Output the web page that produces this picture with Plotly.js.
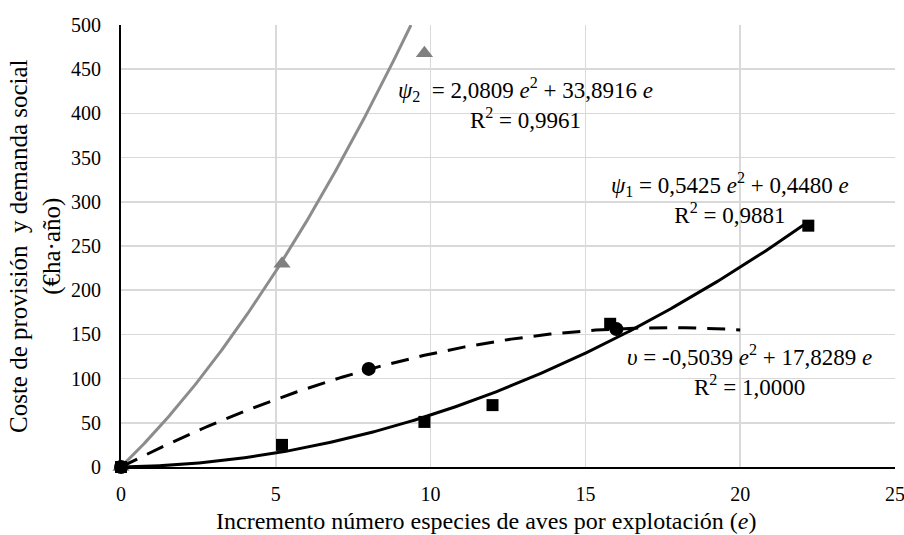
<!DOCTYPE html>
<html><head><meta charset="utf-8">
<script src="https://cdn.plot.ly/plotly-3.0.1.min.js"></script>
<style>body{margin:0;background:#fff}#c{width:904px;height:535px}</style>
</head><body><div id="c"></div>
<script>
// Observed data
const squaresX = [0, 5.2, 9.8, 12, 15.8, 22.2];
const squaresY = [0, 25, 51, 70, 162, 273];
const trianglesX = [0, 5.2, 9.8];
const trianglesY = [0, 230, 468];
const circlesX = [0, 8, 16];
const circlesY = [0, 111, 156];
// Trendline coefficients shown on the chart [a, b] for a*e^2 + b*e
const coefPsi1 = [0.5425, 0.4480];
const coefPsi2 = [2.0809, 33.8916];
const coefV = [-0.5039, 17.8289];
// Trendline x-extents
const rangePsi1 = [0, 22.2];
const rangePsi2 = [0, 9.8];
const rangeV = [0, 20];
const xTicks = [0, 5, 10, 15, 20, 25];
const yTicks = [0, 50, 100, 150, 200, 250, 300, 350, 400, 450, 500];

function trend(coef, rng, yMax) {
  const xs = [], ys = [];
  const n = 300;
  for (let i = 0; i <= n; i++) {
    const x = rng[0] + (rng[1] - rng[0]) * i / n;
    const y = coef[0] * x * x + coef[1] * x;
    if (yMax !== undefined && y > yMax) {
      const a = coef[0], b = coef[1], c = -yMax;
      const xc = (-b + Math.sqrt(b * b - 4 * a * c)) / (2 * a);
      xs.push(xc); ys.push(yMax);
      break;
    }
    xs.push(x); ys.push(y);
  }
  return {x: xs, y: ys};
}

const t2 = trend(coefPsi2, rangePsi2, 500);
const t1 = trend(coefPsi1, rangePsi1);
const tv = trend(coefV, rangeV);

const FONT = 'Liberation Serif, Times New Roman, serif';
const TICK = 20, EQ = 23, XTITLE = 24, YTITLE = 25;
const data = [
  {x: t2.x, y: t2.y, mode: 'lines', line: {color: '#8c8c8c', width: 3}, showlegend: false},
  {x: t1.x, y: t1.y, mode: 'lines', line: {color: '#000', width: 3}, showlegend: false},
  {x: tv.x, y: tv.y, mode: 'lines', line: {color: '#000', width: 3, dash: '18px,11px'}, showlegend: false},
  {x: trianglesX, y: trianglesY, mode: 'markers', marker: {symbol: 'triangle-up', color: '#808080', size: 15}, showlegend: false, cliponaxis: false},
  {x: squaresX, y: squaresY, mode: 'markers', marker: {symbol: 'square', color: '#000', size: 12}, showlegend: false, cliponaxis: false},
  {x: circlesX, y: circlesY, mode: 'markers', marker: {symbol: 'circle', color: '#000', size: 14}, showlegend: false, cliponaxis: false}
];

const layout = {
  width: 904, height: 535,
  margin: {l: 121, r: 9, t: 25, b: 68},
  paper_bgcolor: '#fff', plot_bgcolor: '#fff',
  font: {family: FONT, size: TICK, color: '#000'},
  showlegend: false,
  xaxis: {
    range: [0, 25], tickvals: xTicks, ticktext: xTicks.map(String),
    showgrid: true, gridcolor: '#d9d9d9', gridwidth: 1.5,
    zeroline: false, showline: true, linecolor: '#000', linewidth: 2,
    ticks: '', ticklabelstandoff: 8, ticklabeloverflow: 'allow', tickfont: {family: FONT, size: TICK}
  },
  yaxis: {
    range: [0, 500], tickvals: yTicks, ticktext: yTicks.map(String),
    showgrid: true, gridcolor: '#d9d9d9', gridwidth: 1.5,
    zeroline: false, showline: true, linecolor: '#000', linewidth: 2,
    ticks: '', ticklabelstandoff: 14, tickfont: {family: FONT, size: TICK}
  },
  annotations: [
    {text: 'Incremento número especies de aves por explotación (<i>e</i>)', xref: 'paper', yref: 'paper',
     x: (486 - 121) / 775, y: 0, yshift: -68, borderpad: 0, showarrow: false, xanchor: 'center', yanchor: 'bottom', font: {family: FONT, size: XTITLE}},
    {text: 'Coste de provisión  y demanda social<br>(€ha·año)', xref: 'paper', yref: 'paper',
     x: 0, xshift: -86, y: 0.5, textangle: -90, borderpad: 0, showarrow: false, xanchor: 'center', yanchor: 'middle', align: 'center', font: {family: FONT, size: YTITLE}},
    {text: '<i>ψ</i><sub>2</sub>  = 2,0809 <i>e</i><sup>2</sup> + 33,8916 <i>e</i><br>R<sup>2</sup> = 0,9961', x: 13.05, y: 411,
     showarrow: false, xanchor: 'center', yanchor: 'middle', align: 'center', font: {family: FONT, size: EQ}},
    {text: '<i>ψ</i><sub>1</sub> = 0,5425 <i>e</i><sup>2</sup> + 0,4480 <i>e</i><br>R<sup>2</sup> = 0,9881', x: 19.68, y: 304,
     showarrow: false, xanchor: 'center', yanchor: 'middle', align: 'center', font: {family: FONT, size: EQ}},
    {text: '<i>υ</i> = -0,5039 <i>e</i><sup>2</sup> + 17,8289 <i>e</i><br>R<sup>2</sup> = 1,0000', x: 20.3, y: 109,
     showarrow: false, xanchor: 'center', yanchor: 'middle', align: 'center', font: {family: FONT, size: EQ}}
  ]
};

Plotly.newPlot('c', data, layout, {staticPlot: true, displayModeBar: false});
</script>
</body></html>
